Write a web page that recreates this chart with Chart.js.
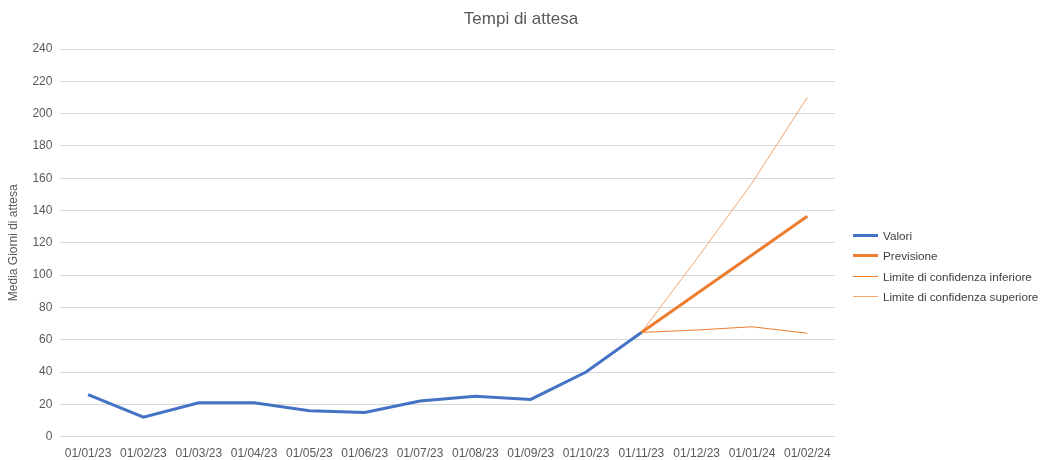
<!DOCTYPE html>
<html>
<head>
<meta charset="utf-8">
<script src="https://cdn.jsdelivr.net/npm/chart.js@4"></script>
<style>
  body { margin: 0; background: #fff; }
  #wrap { position: relative; width: 1042px; height: 460px; }
  #titolo { position: absolute; left: 0; width: 1042px; top: 9px; text-align: center; font: 17px 'Liberation Sans', Arial, sans-serif; color: #595959; }
  #legenda { position: absolute; left: 853px; top: 225px; font: 11.7px 'Liberation Sans', Arial, sans-serif; color: #404040; white-space: nowrap; }
  #legenda div { height: 20.5px; display: flex; align-items: center; }
  #legenda span.l { display: inline-block; width: 25px; margin-right: 5px; }
</style>
</head>
<body>
<div id="wrap">
  <canvas id="grafico" width="1042" height="460"></canvas>
  <div id="titolo">Tempi di attesa</div>
  <div id="legenda"></div>
</div>
<script>
const mesi = ['01/01/23', '01/02/23', '01/03/23', '01/04/23', '01/05/23', '01/06/23', '01/07/23',
  '01/08/23', '01/09/23', '01/10/23', '01/11/23', '01/12/23', '01/01/24', '01/02/24'];
const valori = [26, 12, 21, 21, 16, 15, 22, 25, 23, 40, 64.5, null, null, null];
const previsione = [null, null, null, null, null, null, null, null, null, null, 64.5, 88.5, 112.5, 136.5];
const limiteInferiore = [null, null, null, null, null, null, null, null, null, null, 64.5, 66, 68, 64];
const limiteSuperiore = [null, null, null, null, null, null, null, null, null, null, 64.5, 110, 157, 210];

const serie = [
  { label: 'Valori', data: valori, borderColor: '#4472C4', borderWidth: 3 },
  { label: 'Previsione', data: previsione, borderColor: '#ED7D31', borderWidth: 3 },
  { label: 'Limite di confidenza inferiore', data: limiteInferiore, borderColor: '#ED7D31', borderWidth: 1 },
  { label: 'Limite di confidenza superiore', data: limiteSuperiore, borderColor: '#F4A46C', borderWidth: 1 }
];

const font = "'Liberation Sans', Arial, sans-serif";

new Chart(document.getElementById('grafico'), {
  type: 'line',
  data: {
    labels: mesi,
    datasets: serie.map(s => ({ ...s, pointRadius: 0, tension: 0, spanGaps: false }))
  },
  options: {
    responsive: false,
    animation: false,
    layout: { padding: { top: 49, left: 2, right: 207, bottom: -3 } },
    plugins: {
      legend: { display: false },
      tooltip: { enabled: false }
    },
    scales: {
      x: {
        offset: true,
        grid: { display: false },
        border: { display: false },
        ticks: { color: '#595959', font: { family: font, size: 12 }, maxRotation: 0, autoSkip: false, padding: 2 }
      },
      y: {
        min: 0,
        max: 240,
        ticks: { stepSize: 20, color: '#595959', font: { family: font, size: 12 }, padding: 8 },
        grid: { color: '#D9D9D9', drawTicks: false },
        border: { display: false },
        title: { display: true, text: 'Media Giorni di attesa', color: '#595959', font: { family: font, size: 12 } }
      }
    }
  }
});

const legenda = document.getElementById('legenda');
serie.forEach(s => {
  const riga = document.createElement('div');
  const linea = document.createElement('span');
  linea.className = 'l';
  linea.style.borderTop = s.borderWidth + 'px solid ' + s.borderColor;
  riga.appendChild(linea);
  riga.appendChild(document.createTextNode(s.label));
  legenda.appendChild(riga);
});
</script>
</body>
</html>
